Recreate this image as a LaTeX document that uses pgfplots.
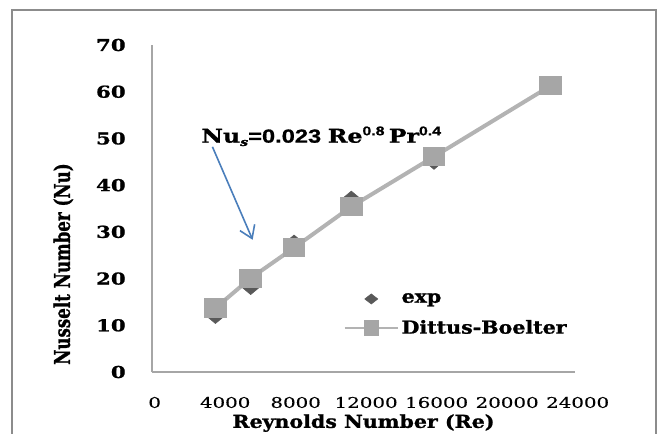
\documentclass[border=0pt]{standalone}
\usepackage{fontspec}
\setmainfont{DejaVu Serif}
\newfontfamily\labfont{DejaVu Serif}[FakeStretch=1.15,FakeBold=1.2]
\newfontfamily\annfont{DejaVu Serif}[FakeStretch=1.25,FakeBold=1.2]
\newfontfamily\ylabfont{DejaVu Serif}[FakeBold=1.2]
\newfontfamily\ytkfont{DejaVu Serif}[FakeStretch=1.3,FakeBold=1]
\newfontfamily\xtkfont{DejaVu Serif}[FakeStretch=1.35,FakeBold=0.4]
\newfontfamily\annsans{Liberation Sans}[FakeStretch=1.25,FakeBold=0.8]
\usepackage{pgfplots}
\pgfplotsset{compat=1.18}
\usetikzlibrary{arrows.meta}

\definecolor{sq}{HTML}{A6A6A6}
\definecolor{ln}{HTML}{B3B3B3}
\definecolor{dia}{HTML}{595959}
\definecolor{arr}{HTML}{4A7EBB}
\definecolor{frm}{HTML}{8C8C8C}
\definecolor{axl}{HTML}{A6A6A6}

\newcommand\LF{\labfont\bfseries\fontsize{13.4}{15}\selectfont}
\newcommand\AF{\annfont\bfseries\fontsize{14.2}{16}\selectfont}
\newcommand\SF{\annsans\bfseries\fontsize{14.2}{16}\selectfont}
\newcommand\SUP[1]{\raisebox{5.5pt}{\annsans\bfseries\fontsize{9.5}{10}\selectfont #1}}

\pgfplotsset{
 legmarks/.style={legend image code/.code={\fill[dia] (20pt,3.8pt) -- (24.9pt,0pt) -- (20pt,-3.8pt) -- (15.1pt,0pt) -- cycle;}},
 legline/.style={legend image code/.code={\draw[ln, line width=1.5pt] (0pt,0pt) -- (40pt,0pt); \fill[sq] (16pt,-4.3pt) rectangle (24pt,4.3pt);}},
}

\begin{document}
\begin{tikzpicture}
\begin{axis}[
 at={(114pt,-279pt)}, anchor=south west, scale only axis,
 width=317.25pt, height=245.25pt,
 xmin=0, xmax=24000, ymin=0, ymax=70,
 clip=false,
 axis x line=bottom, axis y line=left,
 axis line style={-, draw=axl, line width=0.8pt},
 xtick={0,4000,...,24000}, ytick={0,10,...,70},
 major tick length=0pt,
 scaled x ticks=false,
 /pgf/number format/1000 sep={},
 /pgf/number format/assume math mode=true,
 xticklabel style={font=\xtkfont\fontsize{11}{12}\selectfont, anchor=north, inner sep=0pt, yshift=-18.5pt, xshift=2pt},
 yticklabel style={font=\ytkfont\bfseries\fontsize{12.3}{14}\selectfont, anchor=east, inner sep=0pt, xshift=-19.5pt},
 xlabel={Reynolds Number (Re)},
 ylabel={Nusselt Number (Nu)},
 xlabel style={font=\LF, at={(axis cs:12000,-10.93)}, anchor=center},
 ylabel style={font=\ylabfont\bfseries\fontsize{12.5}{14}\selectfont, at={(axis cs:-5029,23.1)}, anchor=center, yscale=1.3},
 legend style={draw=none, fill=none, at={(axis cs:10857,17.5)}, anchor=north west, inner sep=0pt, row sep=7.5pt, font=\LF},
 legend cell align=left,
]
\addplot[only marks, mark=diamond*, mark size=5pt, mark options={xscale=1.6, fill=dia, draw=dia}, legmarks]
 coordinates {(3600,11.8)(5600,18.0)(8060,27.9)(11310,37.3)(16000,44.8)(22630,61.0)};
\addlegendentry{exp}
\addplot[color=ln, line width=3pt, mark=square*, mark size=6.8pt, mark options={xscale=1.2, fill=sq, draw=sq, line width=0pt}, legline]
 coordinates {(3600,13.7)(5600,20.1)(8060,26.6)(11310,35.4)(16000,46.1)(22630,61.3)};
\addlegendentry{Dittus-Boelter}
\node[anchor=base, inner sep=0pt] at (axis cs:9600,49.1)
  {{\AF Nu}\raisebox{-2.5pt}{\annfont\bfseries\itshape\fontsize{8.5}{9}\selectfont s}{\SF =0.023 }{\AF Re}\SUP{0.8} {\AF Pr}\SUP{0.4}};
\draw[arr, line width=1.2pt, -{Straight Barb[length=9pt,width=12pt,line width=1.2pt]}] (axis cs:3430,48.2) -- (axis cs:5710,28.3);
\end{axis}
\draw[frm, line width=2pt] (9pt,-330pt) -- (9pt,-7.5pt) -- (492pt,-7.5pt) -- (492pt,-330pt);
\pgfresetboundingbox
\path[use as bounding box] (0,0) rectangle (495.75pt,-324.75pt);
\end{tikzpicture}
\end{document}
